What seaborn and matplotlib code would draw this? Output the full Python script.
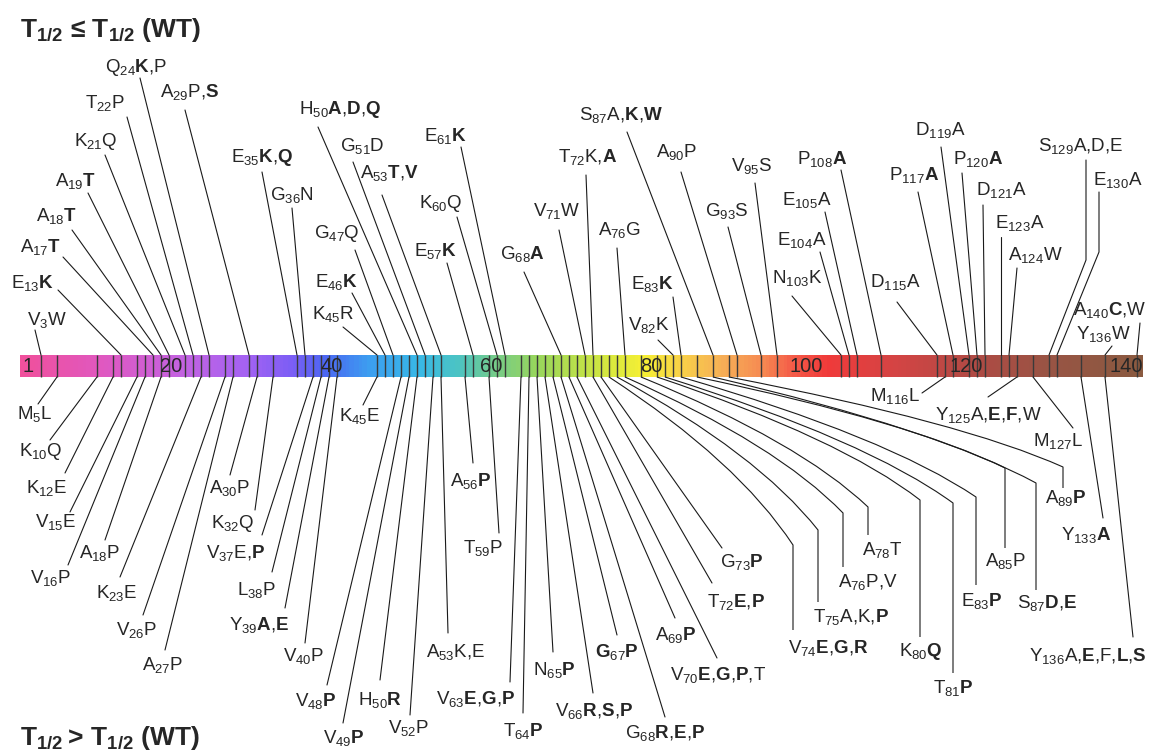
import numpy as np
import matplotlib
matplotlib.use("Agg")
import matplotlib.pyplot as plt
from matplotlib.colors import LinearSegmentedColormap
from matplotlib.path import Path
from matplotlib.patches import PathPatch
import seaborn as sns

# --- datos: mutaciones por encima de la barra (T1/2 <= WT) ---
top_wt = ["V", "E", "A", "A", "A", "K", "T", "Q", "A", "E", "G", "K", "E", "G", "H",
          "G", "A", "E", "K", "E", "G", "V", "T", "A", "V", "E", "S", "A", "G", "V",
          "N", "E", "E", "P", "D", "P", "D", "P", "D", "E", "A", "S", "E", "Y", "A"]
top_pos = [3, 13, 17, 18, 19, 21, 22, 24, 29, 35, 36, 45, 46, 47, 50,
           51, 53, 57, 60, 61, 68, 71, 72, 76, 82, 83, 87, 90, 93, 95,
           103, 104, 105, 108, 115, 117, 119, 120, 121, 123, 124, 129, 130, 136, 140]
# '*' = sustitucion en negrita
top_mut = ["W", "K*", "T*", "T*", "T*", "Q", "P", "K*,P", "P,S*", "K*,Q*", "N", "R", "K*", "Q", "A*,D*,Q*",
           "D", "T*,V*", "K*", "Q", "K*", "A*", "W", "K,A*", "G", "K", "K*", "A,K*,W*", "P", "S", "S",
           "K", "A", "A", "A*", "A", "A*", "A", "A*", "A", "A", "W", "A,D,E", "A", "W", "C*,W"]

# --- datos: mutaciones por debajo de la barra (T1/2 > WT) ---
bot_wt = ["M", "K", "K", "V", "V", "A", "K", "V", "A", "A", "K", "V", "L", "Y", "V", "K",
          "V", "V", "H", "V", "A", "A", "T", "V", "T", "N", "V", "G*", "G", "A", "V", "T",
          "G", "V", "T", "A", "A", "K", "T", "E", "A", "S", "A", "M", "Y", "M", "Y", "Y"]
bot_pos = [5, 10, 12, 15, 16, 18, 23, 26, 27, 30, 32, 37, 38, 39, 40, 45,
           48, 49, 50, 52, 53, 56, 59, 63, 64, 65, 66, 67, 68, 69, 70, 72,
           73, 74, 75, 76, 78, 80, 81, 83, 85, 87, 89, 116, 125, 127, 133, 136]
bot_mut = ["L", "Q", "E", "E", "P", "P", "E", "P", "P", "P", "Q", "E,P*", "P", "A*,E*", "P", "E",
           "P*", "P*", "R*", "P", "K,E", "P*", "P", "E*,G*,P*", "P*", "P*", "R*,S*,P*", "P*", "R*,E*,P*", "P*", "E*,G*,P*,T", "E*,P*",
           "P*", "E*,G*,R*", "A,K,P*", "P,V", "T", "Q*", "P*", "P*", "P", "D*,E*", "P*", "L", "A,E*,F*,W", "L", "A*", "A,E*,F,L*,S*"]

tick_nums = [1, 20, 40, 60, 80, 100, 120, 140]

# --- posiciones de las etiquetas (pixeles de la imagen 1160x756) ---
top_text_xy = [(47, 320), (33, 283), (41, 247), (57, 216), (76, 181), (96, 141), (105, 103), (136, 67),
               (190, 92), (262, 158), (292, 195), (333, 314), (337, 282), (337, 234), (340, 110),
               (362, 146), (389, 173), (435, 251), (441, 203), (446, 136), (522, 254), (557, 211),
               (588, 157), (620, 230), (649, 325), (653, 284), (621, 115), (677, 152), (727, 211),
               (752, 166), (797, 278), (802, 240), (807, 200), (822, 159), (895, 282), (914, 175),
               (940, 130), (978, 159), (1001, 190), (1020, 223), (1035, 255), (1081, 146),
               (1118, 180), (1103, 334), (1110, 310)]
top_line_xy = [(35, 330), (58, 290), (63, 257), (72, 230), (88, 193), (105, 155), (127, 117), (140, 78),
               (185, 110), (262, 172), (292, 208), (343, 327), (352, 293), (355, 250), (318, 127),
               (353, 162), (382, 195), (447, 263), (457, 217), (461, 147), (524, 272), (559, 230),
               (586, 175), (617, 248), (658, 340), (673, 297), (627, 132), (681, 172), (728, 227),
               (755, 183), (792, 296), (820, 252), (825, 212), (841, 170), (897, 302), (918, 192),
               (941, 147), (962, 173), (983, 205), (1001, 237), (1017, 268), (1086, 160),
               (1099, 192), (1112, 346), (1140, 323)]
top_elbow = {129: (1086, 260), 130: (1099, 252)}

bot_text_xy = [(35, 414), (41, 451), (47, 488), (56, 522), (51, 578), (100, 553), (117, 593), (137, 630),
               (163, 665), (230, 488), (233, 523), (236, 553), (257, 590), (259, 625), (304, 656),
               (360, 416), (316, 701), (344, 738), (380, 700), (409, 728), (456, 652), (471, 481),
               (483, 548), (476, 699), (523, 731), (554, 670), (594, 711), (617, 652), (665, 733),
               (676, 635), (718, 675), (736, 602), (742, 562), (828, 648), (851, 617), (868, 582),
               (882, 550), (921, 652), (953, 688), (982, 601), (1006, 561), (1047, 603), (1066, 498),
               (895, 396), (988, 415), (1058, 441), (1086, 535), (1088, 656)]
bot_line_xy = [(38, 404), (50, 440), (65, 473), (70, 512), (68, 565), (105, 540), (120, 577), (143, 615),
               (165, 650), (230, 475), (255, 510), (262, 535), (272, 572), (285, 608), (305, 643),
               (363, 405), (327, 685), (343, 723), (380, 680), (410, 715), (448, 633), (473, 463),
               (499, 533), (510, 682), (523, 713), (553, 652), (593, 693), (617, 635), (665, 717),
               (675, 618), (717, 658), (712, 583), (722, 548), (793, 630), (818, 602), (843, 567),
               (868, 535), (920, 637), (953, 673), (976, 585), (1005, 548), (1036, 590), (1063, 488),
               (922, 393), (988, 397), (1073, 428), (1103, 518), (1133, 637)]
bot_elbow = {74: (793, 545), 75: (818, 530), 76: (843, 513), 78: (868, 507), 80: (920, 500),
             81: (953, 503), 83: (976, 497), 85: (1005, 468), 87: (1036, 483), 89: (1063, 467)}

bar_colors = [(0.00, "#f0509c"), (0.07, "#e058c0"), (0.14, "#c462e0"), (0.20, "#a462f2"),
              (0.24, "#7c5ef5"), (0.27, "#4c66f2"), (0.31, "#3c9ef0"), (0.355, "#38b8e6"),
              (0.39, "#4cc4c2"), (0.425, "#78cc86"), (0.46, "#98d65c"), (0.51, "#c8e444"),
              (0.555, "#f6f034"), (0.59, "#f8d048"), (0.625, "#f6b056"), (0.66, "#f68c52"),
              (0.69, "#f45a48"), (0.72, "#f03a3a"), (0.78, "#d44444"), (0.85, "#b04a44"),
              (0.92, "#985444"), (1.00, "#8a5a40")]

# --- estilo ---
sns.set_theme(style="white")
plt.rcParams["font.family"] = ["Liberation Sans", "DejaVu Sans"]
plt.rcParams["mathtext.fontset"] = "custom"
plt.rcParams["mathtext.rm"] = "Liberation Sans"
plt.rcParams["mathtext.it"] = "Liberation Sans:italic"
plt.rcParams["mathtext.bf"] = "Liberation Sans:bold"
plt.rcParams["mathtext.sf"] = "Liberation Sans"

W, H = 1160, 756
bar_top, bar_bot = 355, 377
bar_start, bar_end = 0.4, 140.75
color_linea = "#1a1a1a"
fs_lab = 13.5

fig = plt.figure(figsize=(W / 100, H / 100), dpi=100, facecolor="white")
ax = fig.add_axes([0, 0, 1, 1])
xmin, xmax = -17 / 8, (W - 17) / 8
ax.set_xlim(xmin, xmax)
ax.set_ylim(H, 0)
ax.patch.set_alpha(0)
ax.set_axis_off()
ax.set_zorder(2)


def to_x(px):
    return xmin + px * (xmax - xmin) / W


def etiqueta(wt, pos, mut):
    def fmt(s):
        if s.endswith("*"):
            return r"\mathbf{%s}" % s[:-1]
        return r"\mathrm{%s}" % s
    partes = [fmt(m) for m in mut.split(",")]
    return "$" + fmt(wt) + r"_{\mathrm{%d}}" % pos + r"\mathrm{,}".join(partes) + "$"


# --- barra de colores (heatmap de una fila) ---
bax = fig.add_axes([(bar_start - xmin) / (xmax - xmin), 1 - bar_bot / H,
                    (bar_end - bar_start) / (xmax - xmin), (bar_bot - bar_top) / H])
bax.set_zorder(1)
cmap = LinearSegmentedColormap.from_list("arcoiris", bar_colors)
sns.heatmap(np.linspace(0, 1, 700)[None, :], ax=bax, cmap=cmap, cbar=False,
            xticklabels=False, yticklabels=False, rasterized=True)
bax.set_axis_off()

# marcas de los residuos mutados dentro de la barra
todos = np.unique(top_pos + bot_pos)
ax.vlines(todos, bar_top, bar_bot, color="#3a3a3a", lw=1.0)

# numeros de la barra
for n in tick_nums:
    if n == 1:
        ax.text(bar_start + 0.3, 366, "1", ha="left", va="center", fontsize=14.5)
    else:
        ax.text(n + 0.7, 366, str(n), ha="right", va="center", fontsize=14.5)

# --- etiquetas de arriba ---
for wt, pos, mut, (tx, ty), (lx, ly) in zip(top_wt, top_pos, top_mut, top_text_xy, top_line_xy):
    ax.text(to_x(tx), ty, etiqueta(wt, pos, mut), ha="center", va="center", fontsize=fs_lab)
    if pos in top_elbow:
        ex, ey = top_elbow[pos]
        ax.plot([to_x(lx), to_x(ex), pos], [ly, ey, bar_top], color=color_linea, lw=0.8)
    else:
        ax.plot([to_x(lx), pos], [ly, bar_top], color=color_linea, lw=0.8)

# --- etiquetas de abajo ---
for wt, pos, mut, (tx, ty), (lx, ly) in zip(bot_wt, bot_pos, bot_mut, bot_text_xy, bot_line_xy):
    ax.text(to_x(tx), ty, etiqueta(wt, pos, mut), ha="center", va="center", fontsize=fs_lab)
    if pos in bot_elbow:
        ex, ey = bot_elbow[pos]
        x0, y0 = pos, bar_bot
        x2 = to_x(ex)
        cx = x0 + 0.7 * (x2 - x0)
        cy = y0 + 0.5 * (ey - y0)
        curva = Path([(x0, y0), (cx, cy), (x2, ey), (to_x(lx), ly)],
                     [Path.MOVETO, Path.CURVE3, Path.CURVE3, Path.LINETO])
        ax.add_patch(PathPatch(curva, fill=False, edgecolor=color_linea, lw=0.8))
    else:
        ax.plot([pos, to_x(lx)], [bar_bot, ly], color=color_linea, lw=0.8)

# --- titulos ---
ax.text(to_x(20), 30, r"$\mathbf{T}_{\mathbf{1/2}}\ \mathbf{≤}\ \mathbf{T}_{\mathbf{1/2}}\ \mathbf{(WT)}$",
        ha="left", va="center", fontsize=19)
ax.text(to_x(20), 738, r"$\mathbf{T}_{\mathbf{1/2}}\mathbf{>}\,\mathbf{T}_{\mathbf{1/2}}\ \mathbf{(WT)}$",
        ha="left", va="center", fontsize=19)

fig.savefig("out.png", dpi=100, facecolor="white")
